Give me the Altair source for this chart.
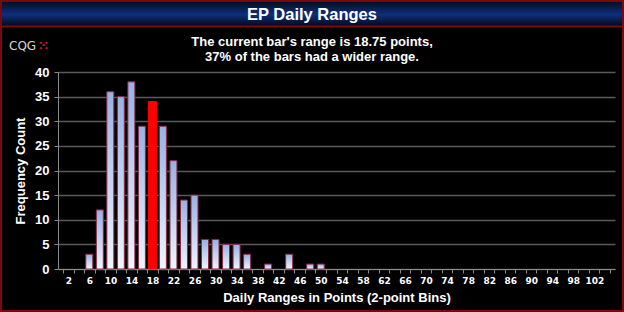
import altair as alt
import pandas as pd

# ---- data ----
bins = list(range(2, 106, 2))          # 2-point bins: 2 .. 104
counts = [0, 0, 3, 12, 36, 35, 38, 29, 34, 29, 22, 14, 15, 6, 6, 5, 5, 3,
          0, 1, 0, 3, 0, 1, 1] + [0] * 27
current_bin = 18
title_text = "EP Daily Ranges"
sub1 = "The current bar's range is 18.75 points,"
sub2 = "37% of the bars had a wider range."
y_title = "Frequency Count"
x_title = "Daily Ranges in Points (2-point Bins)"
y_ticks = list(range(0, 45, 5))
x_ticks = list(range(1, 106, 2))       # bin boundaries

df = pd.DataFrame({"bin": bins, "count": counts})
df = df[df["count"] > 0]

FONT = "Liberation Sans"
W, H = 557, 197
PL, PT, PR, PB = 58, 72, 9, 43

x_enc = alt.X(
    "bin:Q",
    scale=alt.Scale(domain=[1, 105], nice=False, zero=False),
    axis=alt.Axis(
        values=x_ticks,
        labelExpr="((datum.value - 1) % 4 == 0 && datum.value < 104) ? (datum.value + 1) + '' : ''",
        labelOffset=5.4,
        labelOverlap=False,
        labelFont="DejaVu Sans",
        labelFontSize=9,
        labelFontWeight="bold",
        labelColor="#ffffff",
        labelPadding=3,
        tickSize=4,
        tickColor="#8a8a8a",
        domainColor="#8a8a8a",
        grid=False,
        title=x_title,
        titleFont=FONT,
        titleFontSize=13,
        titleFontWeight="bold",
        titleColor="#ffffff",
        titlePadding=6,
    ),
)
y_enc = alt.Y(
    "count:Q",
    scale=alt.Scale(domain=[0, 40], nice=False),
    axis=alt.Axis(
        values=y_ticks,
        labelFont=FONT,
        labelFontSize=13,
        labelFontWeight="bold",
        labelColor="#ffffff",
        labelPadding=5,
        tickSize=4,
        tickColor="#8a8a8a",
        domainColor="#8a8a8a",
        grid=True,
        gridColor="#5a5a5a",
        gridWidth=1.5,
        title=y_title,
        titleFont=FONT,
        titleFontSize=13,
        titleFontWeight="bold",
        titleColor="#ffffff",
        titlePadding=7,
    ),
)

bar_grad = alt.Gradient(
    gradient="linear",
    stops=[alt.GradientStop(color="#97b1e4", offset=0),
           alt.GradientStop(color="#f0f4fd", offset=1)],
    x1=0, x2=0, y1=0, y2=1,
)

bars = alt.Chart(df).transform_filter(
    alt.datum.bin != current_bin
).mark_bar(color=bar_grad, stroke="#8c2a45", strokeWidth=1, size=7).encode(
    x=x_enc, y=y_enc
)
red = alt.Chart(df).transform_filter(
    alt.datum.bin == current_bin
).mark_bar(color="#ff0000", stroke="#ff0000", strokeWidth=1, size=8).encode(
    x=x_enc, y=y_enc
)

one = alt.InlineData(values=[{}])

head_grad = alt.Gradient(
    gradient="linear",
    stops=[alt.GradientStop(color="#050a22", offset=0),
           alt.GradientStop(color="#0e2f7c", offset=0.55),
           alt.GradientStop(color="#040818", offset=1)],
    x1=0, x2=0, y1=0, y2=1,
)
header = alt.Chart(one).mark_rect(color=head_grad).encode(
    x=alt.value(-PL), x2=alt.value(W + PR), y=alt.value(-PT + 1), y2=alt.value(-PT + 26)
)
header_line = alt.Chart(one).mark_rule(color="#7a0a0a", strokeWidth=2).encode(
    x=alt.value(-PL), x2=alt.value(W + PR), y=alt.value(-PT + 26.5)
)
border = alt.Chart(one).mark_rect(fill=None, stroke="#7a0a0a", strokeWidth=2).encode(
    x=alt.value(-PL + 1), x2=alt.value(W + PR - 1), y=alt.value(-PT + 1), y2=alt.value(H + PB - 1)
)

def txt(s, x, y, size, weight="bold", color="#ffffff", align="center", font=FONT):
    return alt.Chart(one).mark_text(
        text=s, align=align, baseline="middle", fontSize=size,
        fontWeight=weight, color=color, font=font
    ).encode(x=alt.value(x), y=alt.value(y))

t_title = txt(title_text, 312 - PL, 15 - PT, 16.5)
t_sub1 = txt(sub1, 312 - PL, 42 - PT, 13)
t_sub2 = txt(sub2, 312 - PL, 57 - PT, 13)
t_logo = txt("CQG", 9 - PL, 46 - PT, 12, weight="normal", color="#d8d8d8", align="left", font="DejaVu Sans")
t_logo2 = txt("⁙", 38 - PL, 46 - PT, 13, weight="bold", color="#e0102a", align="left", font="DejaVu Sans")

chart = alt.layer(
    header, header_line, border, bars, red, t_title, t_sub1, t_sub2, t_logo, t_logo2
).properties(
    width=W, height=H,
    autosize=alt.AutoSizeParams(type="none"),
    padding={"left": PL, "top": PT, "right": PR, "bottom": PB},
    background="#000000",
).configure_view(stroke=None)

chart.save("out.html", embed_options={"renderer": "svg", "actions": False})
